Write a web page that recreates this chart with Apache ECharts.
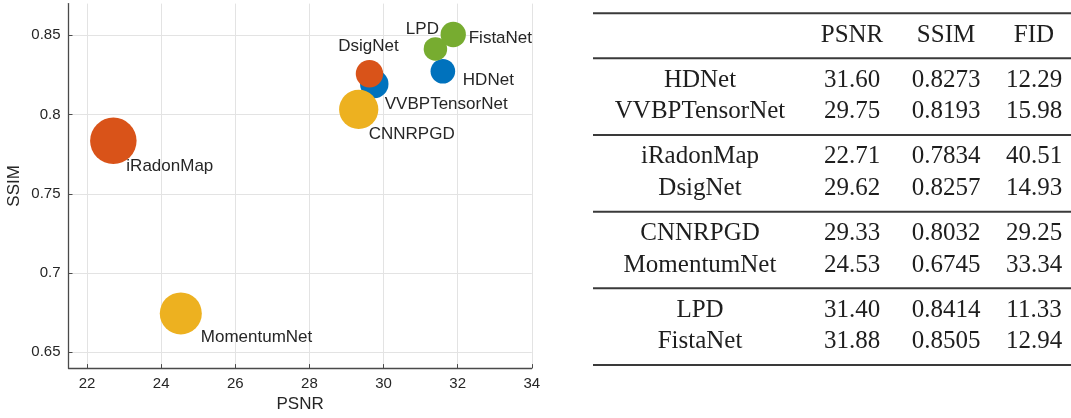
<!DOCTYPE html>
<html>
<head>
<meta charset="utf-8">
<script src="https://cdn.jsdelivr.net/npm/echarts@6/dist/echarts.min.js"></script>
<style>
  html, body { margin: 0; padding: 0; background: #ffffff; }
  #chart { width: 1071px; height: 418px; }
</style>
</head>
<body>
<div id="chart"></div>
<script>
// ---- data ----
const methods = ['HDNet', 'VVBPTensorNet', 'iRadonMap', 'DsigNet', 'CNNRPGD', 'MomentumNet', 'LPD', 'FistaNet'];
const psnr = [31.60, 29.75, 22.71, 29.62, 29.33, 24.53, 31.40, 31.88];
const ssim = [0.8273, 0.8193, 0.7834, 0.8257, 0.8032, 0.6745, 0.8414, 0.8505];
const fid = [12.29, 15.98, 40.51, 14.93, 29.25, 33.34, 11.33, 12.94];
const groupOf = [0, 0, 1, 1, 2, 2, 3, 3];
const tableHeaders = ['PSNR', 'SSIM', 'FID'];
const xAxisName = 'PSNR';
const yAxisName = 'SSIM';

// ---- styles ----
const groupColors = ['#0072BD', '#D95319', '#EDB120', '#77AC30'];
const labelPlacement = {
  'HDNet':         { align: 'left',   offset: [20, 9] },
  'VVBPTensorNet': { align: 'left',   offset: [10.5, 20] },
  'iRadonMap':     { align: 'left',   offset: [13, 25] },
  'DsigNet':       { align: 'center', offset: [-1, -27] },
  'CNNRPGD':       { align: 'left',   offset: [10, 25] },
  'MomentumNet':   { align: 'left',   offset: [20, 24] },
  'LPD':           { align: 'right',  offset: [3.5, -19.5] },
  'FistaNet':      { align: 'left',   offset: [15.5, 3.5] }
};
const fidMin = Math.min.apply(null, fid), fidMax = Math.max.apply(null, fid);
const areaMin = 23.5 * 23.5, areaMax = 46.5 * 46.5;
function bubbleSize(v) {
  return Math.sqrt(areaMin + (v[2] - fidMin) / (fidMax - fidMin) * (areaMax - areaMin));
}

const axisColor = '#4a4a4a';
const textColor = '#262626';
const gridColor = '#e3e3e3';
const sansFont = '"Liberation Sans", Arial, sans-serif';
const serifFont = '"Liberation Serif", "Times New Roman", serif';

// ---- series by colour group ----
const series = groupColors.map(function (col, g) {
  const data = [];
  methods.forEach(function (m, i) {
    if (groupOf[i] !== g) return;
    const lp = labelPlacement[m];
    data.push({
      name: m,
      value: [psnr[i], ssim[i], fid[i]],
      label: { align: lp.align, offset: lp.offset }
    });
  });
  return {
    type: 'scatter',
    data: data,
    symbolSize: bubbleSize,
    itemStyle: { color: col, opacity: 1 },
    label: {
      show: true,
      position: 'inside',
      verticalAlign: 'middle',
      formatter: '{b}',
      color: textColor,
      fontFamily: sansFont,
      fontSize: 17
    },
    emphasis: { disabled: true },
    animation: false
  };
});

// ---- table as graphic elements ----
const tbl = {
  left: 593, right: 1071,
  ruleTop: 13.3, ruleHead: 58.3,
  headerY: 35,
  firstRowY: 80, rowStep: 31.67, groupStep: 76.67,
  firstGroupRuleY: 135,
  colX: [700, 852, 946, 1034]
};
const graphics = [];
function rule(y) {
  graphics.push({
    type: 'rect',
    shape: { x: tbl.left, y: y - 1, width: tbl.right - tbl.left, height: 2 },
    style: { fill: '#3a3a3a' },
    silent: true
  });
}
function cell(txt, x, y) {
  graphics.push({
    type: 'text',
    style: {
      text: txt, x: x, y: y,
      align: 'center', verticalAlign: 'middle',
      textAlign: 'center', textVerticalAlign: 'middle',
      font: '25px ' + serifFont,
      fill: '#1e1e1e'
    },
    silent: true
  });
}
rule(tbl.ruleTop);
rule(tbl.ruleHead);
tableHeaders.forEach(function (h, k) { cell(h, tbl.colX[k + 1], tbl.headerY); });
const nGroups = Math.max.apply(null, groupOf) + 1;
for (let g = 0; g < nGroups; g++) {
  rule(tbl.firstGroupRuleY + g * tbl.groupStep);
}
const seenInGroup = {};
methods.forEach(function (m, i) {
  const g = groupOf[i];
  const r = seenInGroup[g] || 0;
  seenInGroup[g] = r + 1;
  const y = tbl.firstRowY + g * tbl.groupStep + r * tbl.rowStep;
  cell(m, tbl.colX[0], y);
  cell(psnr[i].toFixed(2), tbl.colX[1], y);
  cell(ssim[i].toFixed(4), tbl.colX[2], y);
  cell(fid[i].toFixed(2), tbl.colX[3], y);
});

const chart = echarts.init(document.getElementById('chart'), null, { renderer: 'canvas' });
chart.setOption({
  backgroundColor: '#ffffff',
  animation: false,
  grid: { left: 68.5, right: 539.2, top: 3.6, bottom: 45.7, containLabel: false },
  xAxis: {
    type: 'value',
    min: 21.5, max: 34,
    minInterval: 2, maxInterval: 2,
    name: xAxisName,
    nameLocation: 'middle',
    nameGap: 24,
    nameTextStyle: { color: textColor, fontFamily: sansFont, fontSize: 17 },
    axisLine: { show: true, onZero: false, lineStyle: { color: axisColor, width: 1.3 } },
    axisTick: { show: true, inside: true, length: 4, lineStyle: { color: axisColor } },
    axisLabel: { color: textColor, fontFamily: sansFont, fontSize: 15, margin: 8, showMinLabel: false, showMaxLabel: true },
    splitLine: { show: true, showMinLine: false, showMaxLine: true, lineStyle: { color: gridColor, width: 1 } }
  },
  yAxis: {
    type: 'value',
    min: 0.64, max: 0.87,
    minInterval: 0.05, maxInterval: 0.05,
    name: yAxisName,
    nameLocation: 'middle',
    nameGap: 46,
    nameTextStyle: { color: textColor, fontFamily: sansFont, fontSize: 17 },
    axisLine: { show: true, onZero: false, lineStyle: { color: axisColor, width: 1.3 } },
    axisTick: { show: true, inside: true, length: 4, lineStyle: { color: axisColor } },
    axisLabel: { color: textColor, fontFamily: sansFont, fontSize: 15, margin: 8, showMinLabel: false, showMaxLabel: false },
    splitLine: { show: true, showMinLine: false, showMaxLine: false, lineStyle: { color: gridColor, width: 1 } }
  },
  series: series,
  graphic: { elements: graphics }
});
</script>
</body>
</html>
